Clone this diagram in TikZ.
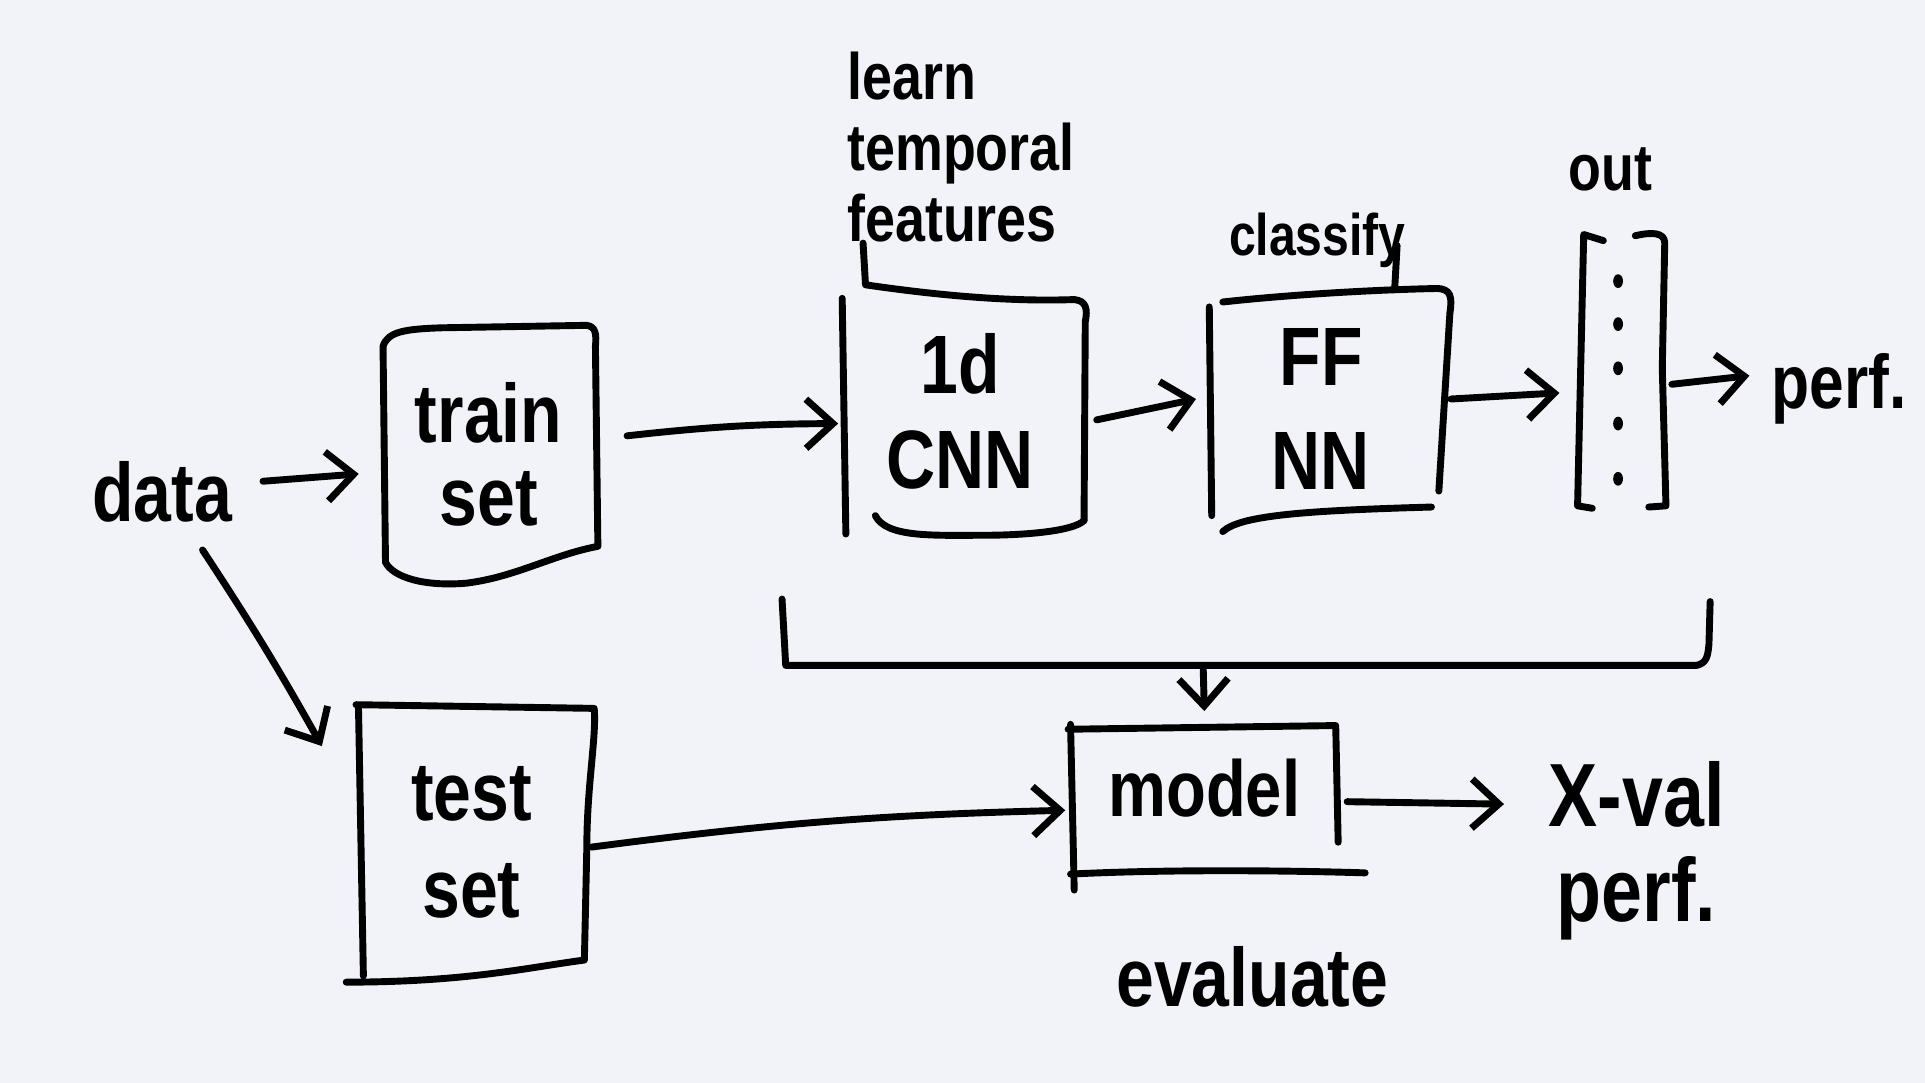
\documentclass[tikz,border=0pt]{standalone}
\usepackage{fontspec}
\setmainfont{Liberation Sans}[FakeStretch=0.82]
\usetikzlibrary{arrows.meta,calc}
\definecolor{paper}{HTML}{F2F3F8}
\begin{document}
\begin{tikzpicture}[x=0.025cm,y=-0.025cm,
  ink/.style={line width=4pt, line cap=round, line join=round, black},
  arr/.style={ink, -{Straight Barb[length=0.55cm,width=1cm]}},
  lbl/.style={font=\bfseries\fontsize{48}{54}\selectfont, inner sep=0pt, align=center},
  note/.style={font=\bfseries\fontsize{38}{41}\selectfont, inner sep=0pt},
  boxn/.style={draw=none, inner sep=0pt, lbl}]
\fill[paper] (0,0) rectangle (1568,882);
\useasboundingbox (0,0) rectangle (1568,882);

% ---------- labels ----------
\node[lbl, anchor=base] (data) at (132,425) {data};
\node[note, align=left, anchor=north west] (learnT) at (690,42) {learn\\temporal\\features};
\node[note, font=\bfseries\fontsize{34}{40}\selectfont, anchor=base] (classify) at (1073,208) {classify};
\node[note, anchor=base] (outT) at (1312,155) {out};
\node[lbl, font=\bfseries\fontsize{44}{54}\selectfont, anchor=base west] (perf) at (1443,333) {perf.};
\node[lbl, anchor=base] (evaluate) at (1020,820) {evaluate};
\node[lbl, font=\bfseries\fontsize{52}{55}\selectfont, anchor=north] (xval) at (1333,620) {X-val\\perf.};

% ---------- boxes ----------
\node[boxn, font=\bfseries\fontsize{48}{48}\selectfont, minimum width=4.375cm, minimum height=5.125cm] (train) at (398,370) {train\\set};
\node[boxn, font=\bfseries\fontsize{48}{56}\selectfont, minimum width=4.875cm, minimum height=5.7cm] (test) at (384,686) {test\\set};
\node[boxn, font=\bfseries\fontsize{48}{55}\selectfont, minimum width=5cm, minimum height=5cm] (cnn) at (782,335) {1d\\CNN};
\node[boxn, font=\bfseries\fontsize{48}{60}\selectfont, minimum width=4.875cm, minimum height=4.875cm] (ff) at (1076,333) {FF\\NN};
\node[boxn, minimum width=1.875cm, minimum height=5.625cm] (out) at (1320,302) {};
\node[boxn, font=\bfseries\fontsize{46}{54}\selectfont, minimum width=5.5cm, minimum height=3.125cm] (model) at (981,642) {model};

% train set outline
\draw[ink] (312,282) .. controls (316,270) and (330,268) .. (360,267) -- (478,265)
  .. controls (485,266) and (486,272) .. (485,282) -- (487,445)
  .. controls (450,452) and (420,470) .. (380,475)
  .. controls (345,478) and (320,470) .. (314,458) -- cycle;
% test set outline
\draw[ink] (290,574) -- (484,577) .. controls (486,600) and (478,640) .. (478,690) -- (476,782)
  .. controls (430,788) and (380,800) .. (282,800);
\draw[ink] (292,576) -- (296,795);
% 1d CNN outline
\draw[ink] (686,243) -- (689,435);
\draw[ink] (703,198) -- (705,232) .. controls (760,240) and (820,246) .. (875,244)
  .. controls (885,245) and (886,252) .. (884,262) -- (883,424);
\draw[ink] (713,420) .. controls (722,438) and (760,436) .. (800,436)
  .. controls (840,436) and (875,432) .. (883,424);
% FF NN outline
\draw[ink] (985,250) -- (987,420);
\draw[ink] (996,246) .. controls (1050,240) and (1120,236) .. (1170,235)
  .. controls (1182,235) and (1183,242) .. (1181,255) -- (1172,400);
\draw[ink] (996,433) .. controls (1010,420) and (1060,416) .. (1166,413);
\draw[ink] (1138,200) -- (1136,236);
% out vector
\draw[ink] (1306,196) -- (1290,191) -- (1285,412) -- (1297,414);
\draw[ink] (1332,192) .. controls (1345,189) and (1356,189) .. (1356,198) -- (1354,300) -- (1357,412) -- (1343,413);
\foreach \yy in {229,264,300,345,390}
  \fill (1318,\yy) ellipse [x radius=0.1cm, y radius=0.14cm];
% model outline
\draw[ink] (872,590) -- (875,725);
\draw[ink] (870,594) -- (1088,591) -- (1090,686);
\draw[ink] (872,712) .. controls (950,708) and (1050,709) .. (1112,711);
% bracket
\draw[ink] (637,488) -- (640,542) -- (1382,542) .. controls (1390,540) and (1391,535) .. (1392,525) -- (1393,490);
\coordinate (brk) at (980,542);

% ---------- arrows ----------
\draw[arr] ($(data.base east)+(25,-33)$) -- ($(train.west)+(-18,16)$);
\draw[arr] ($(data.base)+(33,23)$) to[bend left=2] ($(test.north west)+(-24,36)$);
\draw[arr] ($(train.east)+(25,-15)$) to[bend left=3] ($(cnn.west)+(1,10)$);
\draw[arr] ($(cnn.east)+(11,7)$) -- ($(ff.west)+(-4,-8)$);
\draw[arr] ($(ff.east)+(8,-8)$) -- ($(out.west)+(-12,18)$);
\draw[arr] ($(out.east)+(4,11)$) -- ($(perf.base west)+(-18,-27)$);
\draw[arr] (brk) -- (model.north);
\draw[arr] ($(test.east)+(0,4)$) to[bend left=3] ($(model.west)+(-3,18)$);
\draw[arr] ($(model.east)+(6,11)$) -- ($(xval.north west)+(-36,35)$);
\end{tikzpicture}
\end{document}
